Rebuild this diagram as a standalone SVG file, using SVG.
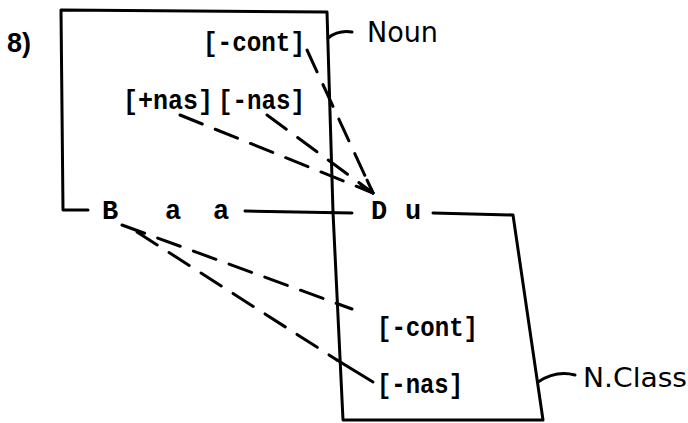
<svg xmlns="http://www.w3.org/2000/svg" width="688" height="423" viewBox="0 0 688 423">
<style>
.ln{fill:none;stroke:#000;stroke-width:3;stroke-linecap:round;stroke-linejoin:round}
.ds{fill:none;stroke:#000;stroke-width:3;stroke-linecap:round;stroke-dasharray:24 14}
.tw{font-family:"Liberation Mono","Courier New",monospace;font-weight:bold;font-size:27px;fill:#000}
.hw{font-family:"DejaVu Sans","Liberation Sans",sans-serif;fill:#000}
</style>
<rect width="688" height="423" fill="#fff"/>
<text x="7" y="52" font-family="Liberation Sans, Arial, sans-serif" font-weight="bold" font-size="27">8)</text>
<g id="noun">
<path class="ln" d="M88,210 L63,210 L61,10 L327,12 L333,212"/>
<path class="ln" d="M328,38 Q338,30 352,32"/>
<text class="hw" x="367" y="42" font-size="29" textLength="71" lengthAdjust="spacingAndGlyphs">Noun</text>
<text class="tw" x="203" y="51" textLength="102" lengthAdjust="spacingAndGlyphs">[-cont]</text>
<text class="tw" x="123" y="109" textLength="90" lengthAdjust="spacingAndGlyphs">[+nas]</text>
<text class="tw" x="218" y="109" textLength="87" lengthAdjust="spacingAndGlyphs">[-nas]</text>
</g>
<g id="segments">
<text class="tw" x="102" y="219">B</text>
<text class="tw" x="165" y="219">a</text>
<text class="tw" x="213" y="219">a</text>
<text class="tw" x="371" y="219">D</text>
<text class="tw" x="405" y="219">u</text>
<path class="ln" d="M245,211 L352,213"/>
</g>
<g id="nclass">
<path class="ln" d="M333,212 L343,420 L543,420 L513,215 L433,213"/>
<path class="ln" d="M538,382 Q556,370 575,375"/>
<text class="hw" x="583" y="387" font-size="26" textLength="104" lengthAdjust="spacingAndGlyphs">N.Class</text>
<text class="tw" x="377" y="336" textLength="101" lengthAdjust="spacingAndGlyphs">[-cont]</text>
<text class="tw" x="377" y="393" textLength="86" lengthAdjust="spacingAndGlyphs">[-nas]</text>
</g>
<g id="connectors">
<path class="ds" d="M307,50 L373,193" stroke-dasharray="30 16"/>
<path class="ds" d="M180,115 L373,193"/>
<path class="ds" d="M267,115 L373,193" stroke-dasharray="20 14"/>
<path class="ln" d="M361,185 L373,193 L367,180"/>
<path class="ds" d="M122,225 L352,309"/>
<path class="ds" d="M137,232 L337,360" stroke-dasharray="22 16"/>
<path class="ln" d="M337,360 L373,382"/>
</g>
</svg>
